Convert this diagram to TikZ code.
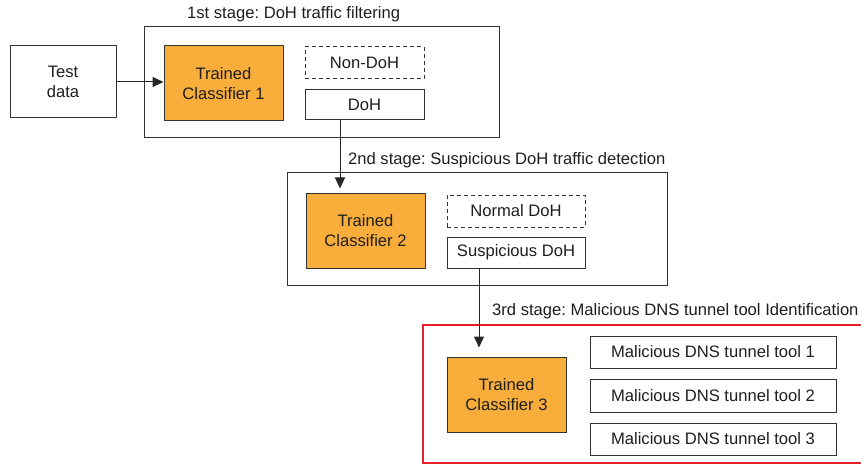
\documentclass[tikz,border=0pt]{standalone}
\usepackage{fontspec}
\setmainfont{Liberation Sans}
\usetikzlibrary{arrows.meta,calc}
\definecolor{clsorange}{RGB}{249,174,59}
\definecolor{stagered}{RGB}{232,30,40}
\definecolor{txt}{RGB}{30,30,30}
\frenchspacing
\begin{document}
\begin{tikzpicture}[x=1pt,y=-1pt,
  font=\fontsize{16.6}{19.5}\selectfont, text=txt,
  box/.style={draw=black!80, line width=1pt, inner sep=0pt, align=center},
  cls/.style={box, fill=clsorange},
  dbox/.style={box, dashed, dash pattern=on 4pt off 3pt},
  frame/.style={draw=black!80, line width=1pt, inner sep=0pt},
  lbl/.style={inner sep=0pt, anchor=west},
  arr/.style={draw=black!85, line width=1pt, -{Triangle[length=11pt,width=10pt]}}]
\useasboundingbox (0,0) rectangle (861,465);
% stage frames
\node[frame, minimum width=355pt, minimum height=111pt] (st1) at (321.5,82.5) {};
\node[frame, minimum width=380pt, minimum height=112pt] (st2) at (477,229) {};
\draw[draw=stagered, line width=2pt] (870,325) -- (423,325) -- (423,463) -- (870,463);
% labels
\node[lbl] (l1) at (187,14) {1st stage: DoH traffic filtering};
\node[lbl] (l2) at (348,160) {2nd stage: Suspicious DoH traffic detection};
\node[lbl] (l3) at (492,311) {3rd stage: Malicious DNS tunnel tool Identification};
% stage 1
\node[box, minimum width=106pt, minimum height=72pt] (test) at (63,82) {Test\\data};
\node[cls, minimum width=119pt, minimum height=75pt] (c1) at (223.5,83.5) {Trained\\Classifier 1};
\node[dbox, minimum width=119pt, minimum height=32pt] (nondoh) at (364.5,63) {Non-DoH};
\node[box, minimum width=119pt, minimum height=30pt] (doh) at (364.5,105) {DoH};
% stage 2
\node[cls, minimum width=119pt, minimum height=75pt] (c2) at (365.5,230.5) {Trained\\Classifier 2};
\node[dbox, minimum width=138pt, minimum height=32pt] (normal) at (516,211) {Normal DoH};
\node[box, minimum width=138pt, minimum height=31pt] (susp) at (516,252.5) {Suspicious DoH};
% stage 3
\node[cls, minimum width=119pt, minimum height=75pt] (c3) at (506.5,394.5) {Trained\\Classifier 3};
\node[box, minimum width=246pt, minimum height=32pt] (t1) at (713,352) {Malicious DNS tunnel tool 1};
\node[box, minimum width=246pt, minimum height=33pt] (t2) at (713,395.5) {Malicious DNS tunnel tool 2};
\node[box, minimum width=246pt, minimum height=32pt] (t3) at (713,439) {Malicious DNS tunnel tool 3};
% connectors
\coordinate (xa) at (340,0);
\coordinate (xb) at (479,0);
\draw[arr] (test.east) -- (test.east -| c1.west);
\draw[arr] (doh.south -| xa) -- ($(xa |- c2.north)+(0,-4)$);
\draw[arr] (susp.south -| xb) -- ($(xb |- c3.north)+(0,-9)$);
\end{tikzpicture}
\end{document}
